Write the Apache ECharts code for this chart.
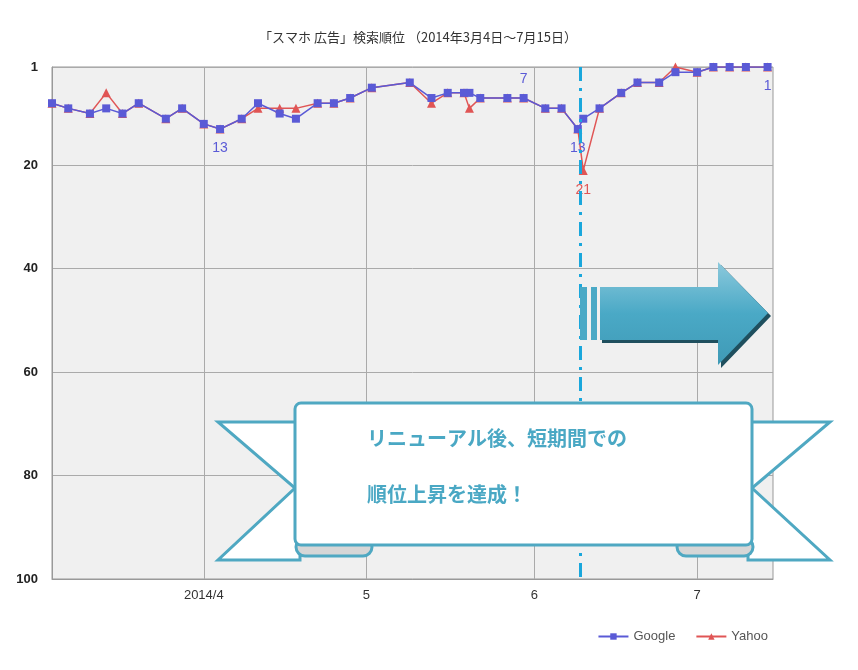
<!DOCTYPE html>
<html>
<head>
<meta charset="utf-8">
<script src="https://cdn.jsdelivr.net/npm/echarts@6/dist/echarts.min.js"></script>
<style>html,body{margin:0;padding:0;background:#fff}#chart{width:858px;height:670px}</style>
</head>
<body>
<div id="chart"></div>
<script>
// ranking data
const dates = ['2014-03-04','2014-03-07','2014-03-11','2014-03-14','2014-03-17','2014-03-20','2014-03-25','2014-03-28',
  '2014-04-01','2014-04-04','2014-04-08','2014-04-11','2014-04-15','2014-04-18','2014-04-22','2014-04-25','2014-04-28',
  '2014-05-02','2014-05-09','2014-05-13','2014-05-16','2014-05-19','2014-05-20','2014-05-22','2014-05-27','2014-05-30',
  '2014-06-03','2014-06-06','2014-06-09','2014-06-10','2014-06-13','2014-06-17','2014-06-20','2014-06-24','2014-06-27',
  '2014-07-01','2014-07-04','2014-07-07','2014-07-10','2014-07-14'];
const google = [8,9,10,9,10,8,11,9,12,13,11,8,10,11,8,8,7,5,4,7,6,6,6,7,7,7,9,9,13,11,9,6,4,4,2,2,1,1,1,1];
const yahoo  = [8,9,10,6,10,8,11,9,12,13,11,9,9,9,8,8,7,5,4,8,6,6,9,7,7,7,9,9,13,21,9,6,4,4,1,2,1,1,1,1];
const googleLabels = {9:'bottom', 25:'top', 28:'bottom', 39:'bottom'};
const yahooLabels = {29:'bottom'};
const monthTicks = ['2014-04-01','2014-05-01','2014-06-01','2014-07-01'];
const monthNames = ['2014/4','5','6','7'];
const rankTicks = [1,20,40,60,80,100];

const ts = d => +new Date(d.replace(' ', 'T') + (d.length > 10 ? ':00' : 'T00:00:00'));
const monthTs = monthTicks.map(ts);

const chart = echarts.init(document.getElementById('chart'));

function build(vals, labels, color) {
  return dates.map((d, i) => {
    const item = {value: [ts(d), vals[i]]};
    if (labels[i]) item.label = {show: true, position: labels[i], color: color, fontSize: 14, distance: 8};
    return item;
  });
}

const teal = '#4fa8c2';
const option = {
  title: {
    text: '「スマホ 広告」検索順位 （2014年3月4日～7月15日）',
    left: 413, top: 26, textAlign: 'center',
    textStyle: {fontSize: 13, fontWeight: 'normal', color: '#333', fontFamily: 'Noto Sans CJK JP'}
  },
  legend: {
    right: 85, bottom: 22, itemWidth: 30, itemHeight: 8, itemGap: 20,
    textStyle: {color: '#555', fontSize: 13},
    data: ['Google', 'Yahoo']
  },
  grid: {left: 52, right: 85, top: 67, bottom: 91, show: true, backgroundColor: '#f0f0f0', borderColor: '#999'},
  xAxis: {
    type: 'value',
    min: ts('2014-03-04'), max: ts('2014-07-15'),
    axisLine: {lineStyle: {color: '#999'}},
    axisTick: {show: false, customValues: monthTs},
    axisLabel: {
      customValues: monthTs,
      formatter: v => monthNames[monthTs.indexOf(v)] || '',
      color: '#333', fontSize: 13, margin: 10
    },
    splitLine: {show: true, lineStyle: {color: '#aaa'}}
  },
  yAxis: {
    type: 'value', inverse: true, min: 1, max: 100,
    axisLine: {show: true, lineStyle: {color: '#999'}},
    axisTick: {show: false, customValues: rankTicks},
    axisLabel: {customValues: rankTicks, color: '#222', fontSize: 13, fontWeight: 'bold', margin: 14},
    splitLine: {show: true, lineStyle: {color: '#aaa'}}
  },
  series: [
    {
      name: 'Yahoo', type: 'line', data: build(yahoo, yahooLabels, '#e05555'),
      symbol: 'triangle', symbolSize: 9, showAllSymbol: true,
      itemStyle: {color: '#e05555'}, lineStyle: {width: 1.5, color: '#e05555'}
    },
    {
      name: 'Google', type: 'line', data: build(google, googleLabels, '#5a5ad6'),
      symbol: 'rect', symbolSize: 8, showAllSymbol: true,
      itemStyle: {color: '#5a5ad6'}, lineStyle: {width: 1.5, color: '#5a5ad6'},
      markLine: {
        silent: true, symbol: 'none', label: {show: false},
        lineStyle: {color: '#1aa7dc', width: 3, type: [14, 7, 3, 7]},
        data: [{xAxis: ts('2014-06-09 10:00')}]
      }
    }
  ],
  graphic: [
    // arrow
    {type: 'rect', shape: {x: 580, y: 287, width: 7, height: 53}, style: {fill: '#4aa9c6'}, z: 100},
    {type: 'rect', shape: {x: 591, y: 287, width: 6, height: 53}, style: {fill: '#4aa9c6'}, z: 100},
    {type: 'polygon', z: 99, shape: {points: [[602,290],[721,290],[721,265],[771,316],[721,368],[721,343],[602,343]]}, style: {fill: '#1f4f5e'}},
    {type: 'polygon', z: 100, shape: {points: [[600,287],[718,287],[718,262],[768,313],[718,365],[718,340],[600,340]]},
      style: {fill: new echarts.graphic.LinearGradient(0, 0, 0, 1, [{offset: 0, color: '#8cc9dc'}, {offset: 0.5, color: '#4aa9c6'}, {offset: 1, color: '#3f9ab6'}])}},
    // ribbon tails
    {type: 'polygon', z: 100, shape: {points: [[218,422],[300,422],[300,560],[218,560],[295,488]]}, style: {fill: '#fff', stroke: teal, lineWidth: 3}},
    {type: 'polygon', z: 100, shape: {points: [[830,422],[748,422],[748,560],[830,560],[752,488]]}, style: {fill: '#fff', stroke: teal, lineWidth: 3}},
    // scroll curls
    {type: 'rect', z: 101, shape: {x: 296, y: 538, width: 76, height: 18, r: 9}, style: {fill: '#d6d6d6', stroke: teal, lineWidth: 3}},
    {type: 'rect', z: 101, shape: {x: 677, y: 538, width: 76, height: 18, r: 9}, style: {fill: '#d6d6d6', stroke: teal, lineWidth: 3}},
    // banner body
    {type: 'rect', z: 102, shape: {x: 295, y: 403, width: 457, height: 142, r: 6}, style: {fill: '#fff', stroke: teal, lineWidth: 3}},
    {type: 'text', z: 103, left: 367, top: 428, style: {text: 'リニューアル後、短期間での', fill: '#4aa8c4', fontSize: 20, fontWeight: 'bold', fontFamily: 'Noto Sans CJK JP'}},
    {type: 'text', z: 103, left: 367, top: 484, style: {text: '順位上昇を達成！', fill: '#4aa8c4', fontSize: 20, fontWeight: 'bold', fontFamily: 'Noto Sans CJK JP'}}
  ]
};
chart.setOption(option);
</script>
</body>
</html>
